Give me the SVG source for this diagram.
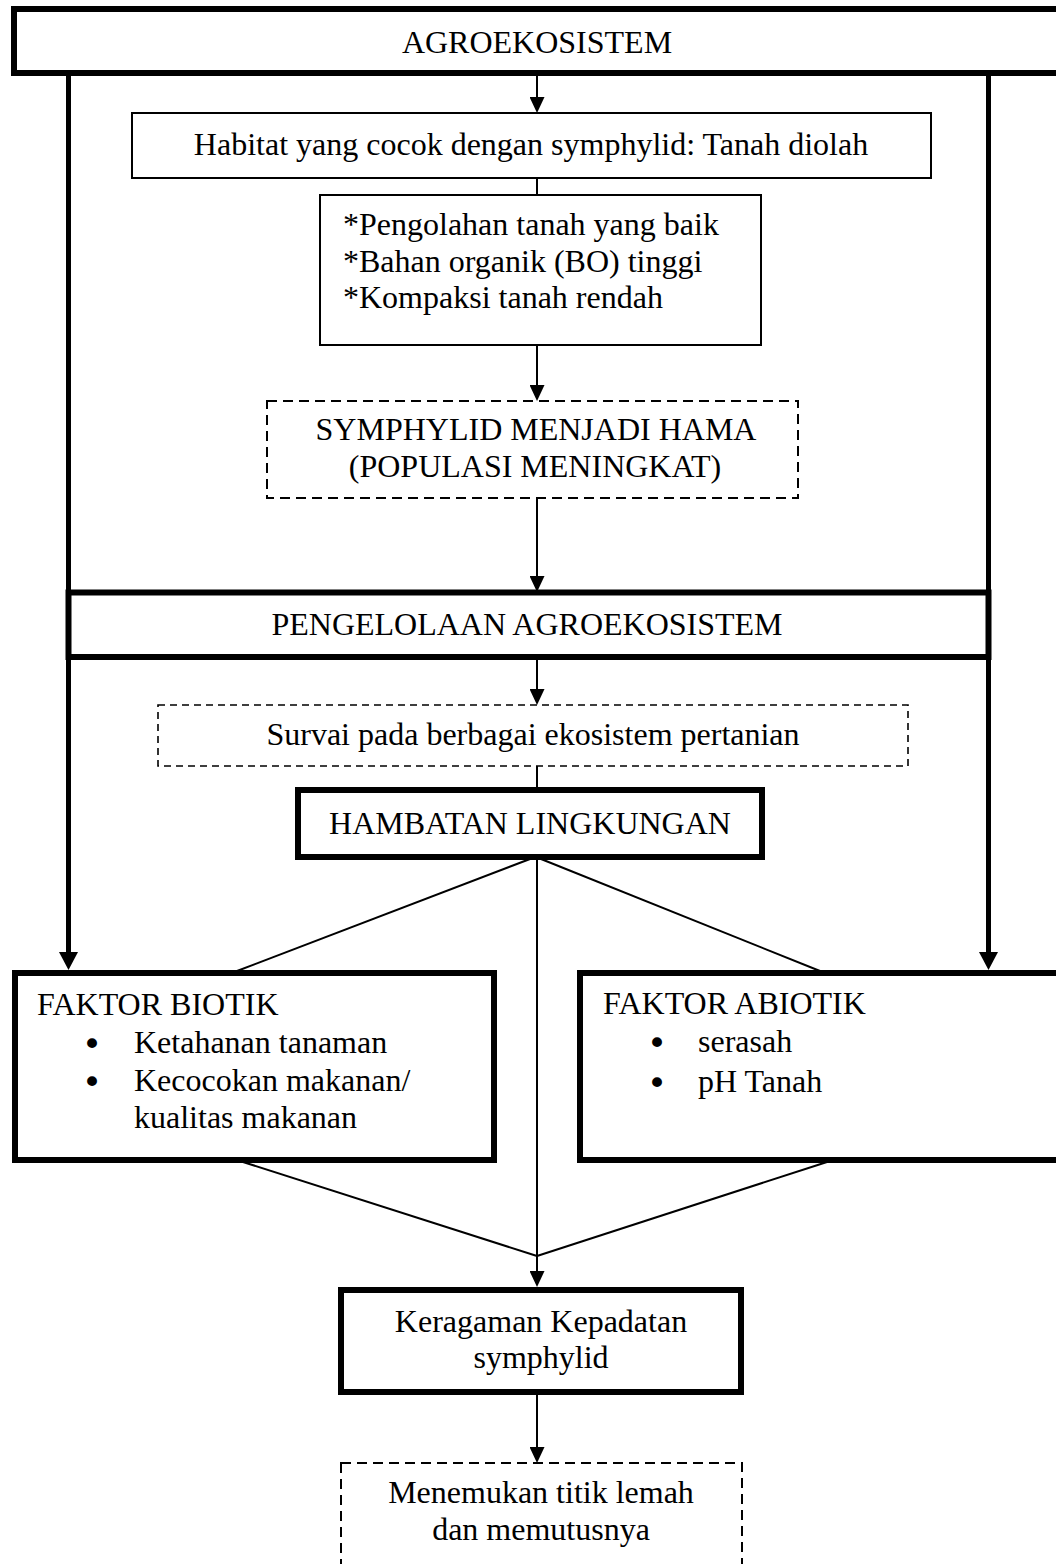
<svg xmlns="http://www.w3.org/2000/svg" width="1056" height="1564" viewBox="0 0 1056 1564">
<style>
text{font-family:"Liberation Serif","Times New Roman",serif;font-size:32px;fill:#000}
.c{text-anchor:middle}
.b{text-anchor:middle;font-family:"DejaVu Sans",sans-serif;font-size:34px}
.thin{fill:#fff;stroke:#000;stroke-width:2}
.thick{fill:#fff;stroke:#000;stroke-width:6}
.dash{fill:#fff;stroke:#000;stroke-width:2;stroke-dasharray:10 6}
.dash2{fill:#fff;stroke:#000;stroke-width:1.6;stroke-dasharray:7 5}
.ln{stroke:#000;stroke-width:2;fill:none}
.lnb{stroke:#000;stroke-width:5;fill:none}
</style>
<defs>
<marker id="ah" markerUnits="userSpaceOnUse" markerWidth="16" markerHeight="15" viewBox="0 0 16 15" refX="10" refY="7.5" orient="auto"><path d="M0,0 L16,7.5 L0,15 z" fill="#000"/></marker>
<marker id="ahb" markerUnits="userSpaceOnUse" markerWidth="18" markerHeight="19" viewBox="0 0 18 19" refX="10" refY="9.5" orient="auto"><path d="M0,0 L18,9.5 L0,19 z" fill="#000"/></marker>
</defs>
<rect width="1056" height="1564" fill="#fff"/>
<g id="connectors">
<line class="lnb" x1="68.5" y1="76" x2="68.5" y2="962" marker-end="url(#ahb)"/>
<line class="lnb" x1="988.5" y1="76" x2="988.5" y2="962" marker-end="url(#ahb)"/>
<line class="ln" x1="537" y1="76" x2="537" y2="107" marker-end="url(#ah)"/>
<line class="ln" x1="537" y1="178" x2="537" y2="195"/>
<line class="ln" x1="537" y1="345" x2="537" y2="395" marker-end="url(#ah)"/>
<line class="ln" x1="537" y1="498" x2="537" y2="586" marker-end="url(#ah)"/>
<line class="ln" x1="537" y1="660" x2="537" y2="699" marker-end="url(#ah)"/>
<line class="ln" x1="537" y1="766" x2="537" y2="788"/>
<line class="ln" x1="530" y1="859" x2="237" y2="971"/>
<line class="ln" x1="541" y1="859" x2="820" y2="971"/>
<line class="ln" x1="537" y1="859" x2="537" y2="1281" marker-end="url(#ah)"/>
<line class="ln" x1="243" y1="1162" x2="537" y2="1256"/>
<line class="ln" x1="827" y1="1162" x2="537" y2="1256"/>
<line class="ln" x1="537" y1="1395" x2="537" y2="1457" marker-end="url(#ah)"/>
</g>
<g id="agroekosistem">
<rect class="thick" x="14" y="9" width="1090" height="64"/>
<text class="c" x="537" y="53">AGROEKOSISTEM</text>
</g>
<g id="habitat">
<rect class="thin" x="132" y="113" width="799" height="65"/>
<text class="c" x="531" y="155">Habitat yang cocok dengan symphylid: Tanah diolah</text>
</g>
<g id="kondisi">
<rect class="thin" x="320" y="195" width="441" height="150"/>
<text x="343" y="235">*Pengolahan tanah yang baik</text>
<text x="343" y="272">*Bahan organik (BO) tinggi</text>
<text x="343" y="308">*Kompaksi tanah rendah</text>
</g>
<g id="hama">
<rect class="dash" x="267" y="401" width="531" height="97"/>
<text class="c" x="536" y="440">SYMPHYLID MENJADI HAMA</text>
<text class="c" x="535" y="477">(POPULASI MENINGKAT)</text>
</g>
<g id="pengelolaan">
<rect class="thick" x="68.5" y="592.5" width="920" height="64.5"/>
<text class="c" x="527" y="635">PENGELOLAAN AGROEKOSISTEM</text>
</g>
<g id="survai">
<rect class="dash2" x="158" y="705" width="750" height="61"/>
<text class="c" x="533" y="745">Survai pada berbagai ekosistem pertanian</text>
</g>
<g id="hambatan">
<rect class="thick" x="298" y="790" width="464" height="67"/>
<text class="c" x="530" y="834">HAMBATAN LINGKUNGAN</text>
</g>
<g id="biotik">
<rect class="thick" x="15" y="973" width="479" height="187"/>
<text x="37" y="1015">FAKTOR BIOTIK</text>
<text class="b" x="92" y="1056">•</text>
<text x="134" y="1053">Ketahanan tanaman</text>
<text class="b" x="92" y="1094">•</text>
<text x="134" y="1091">Kecocokan makanan/</text>
<text x="134" y="1128">kualitas makanan</text>
</g>
<g id="abiotik">
<rect class="thick" x="580" y="973" width="520" height="187"/>
<text x="603" y="1014">FAKTOR ABIOTIK</text>
<text class="b" x="657" y="1055">•</text>
<text x="698" y="1052">serasah</text>
<text class="b" x="657" y="1095">•</text>
<text x="698" y="1092">pH Tanah</text>
</g>
<g id="keragaman">
<rect class="thick" x="341" y="1290" width="400" height="102"/>
<text class="c" x="541" y="1332">Keragaman Kepadatan</text>
<text class="c" x="541" y="1368">symphylid</text>
</g>
<g id="titik-lemah">
<rect class="dash" x="341" y="1463" width="401" height="140"/>
<text class="c" x="541" y="1503">Menemukan titik lemah</text>
<text class="c" x="541" y="1540">dan memutusnya</text>
</g>
</svg>
